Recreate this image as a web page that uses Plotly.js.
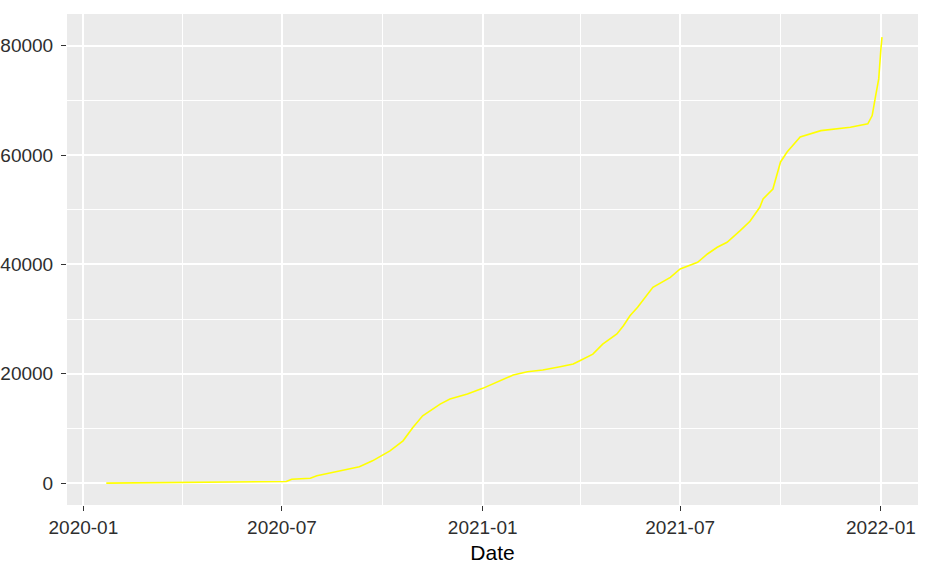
<!DOCTYPE html>
<html>
<head>
<meta charset="utf-8">
<script src="https://cdn.plot.ly/plotly-3.0.1.min.js"></script>
<style>
  html, body { margin: 0; padding: 0; background: #fff; }
  #chart { width: 929px; height: 568px; }
</style>
</head>
<body>
<div id="chart"></div>
<script>
// cumulative count, roughly one point every 1-3 weeks
const dates = [
	'2020-01-22', '2020-03-01', '2020-04-01', '2020-05-01', '2020-06-01', '2020-06-20',
	'2020-07-05', '2020-07-10', '2020-07-27', '2020-08-02', '2020-08-14', '2020-08-28',
	'2020-09-10', '2020-09-22', '2020-10-08', '2020-10-20', '2020-10-29', '2020-11-07',
	'2020-11-23', '2020-12-02', '2020-12-18', '2021-01-01', '2021-01-14', '2021-01-29',
	'2021-02-11', '2021-02-25', '2021-03-13', '2021-03-25', '2021-03-31', '2021-04-12',
	'2021-04-21', '2021-05-04', '2021-05-10', '2021-05-16', '2021-05-23', '2021-06-01',
	'2021-06-06', '2021-06-22', '2021-07-01', '2021-07-17', '2021-07-26', '2021-08-04',
	'2021-08-13', '2021-08-25', '2021-09-03', '2021-09-12', '2021-09-15', '2021-09-24',
	'2021-09-27', '2021-10-01', '2021-10-07', '2021-10-19', '2021-11-07', '2021-12-04',
	'2021-12-20', '2021-12-24', '2021-12-27', '2021-12-30', '2022-01-01', '2022-01-02'
];
const cases = [
	0, 50, 100, 130, 150, 200,
	300, 700, 900, 1340, 1830, 2430,
	2980, 4080, 5910, 7740, 10190, 12320,
	14460, 15370, 16290, 17330, 18430, 19760,
	20370, 20680, 21280, 21780, 22390, 23600,
	25430, 27270, 28790, 30620, 32150, 34590,
	35810, 37640, 39160, 40380, 41910, 43130,
	44050, 46180, 47900, 50450, 51970, 53800,
	56000, 58740, 60570, 63320, 64470, 65090,
	65700, 67220, 70640, 73930, 79420, 81560
];

// axis settings (ggplot grey theme look)
const xRange = [ '2019-12-17', '2022-02-04' ];
const yRange = [ -4000, 85800 ];
const xTickFormat = '%Y-%m';
const xTitle = 'Date';

const fontFamily = '"Liberation Sans", Arial, sans-serif';

const data = [ {
	x: dates,
	y: cases,
	type: 'scatter',
	mode: 'lines',
	line: { color: '#FFFF00', width: 1.6 },
	hoverinfo: 'x+y',
	showlegend: false
} ];

const layout = {
	width: 929,
	height: 568,
	margin: { l: 67, r: 11, t: 14, b: 63 },
	paper_bgcolor: '#ffffff',
	plot_bgcolor: '#EBEBEB',
	font: { family: fontFamily, size: 19, color: '#2e2e2e' },
	xaxis: {
		type: 'date',
		range: xRange,
		tick0: '2020-01-01',
		dtick: 'M6',
		tickformat: xTickFormat,
		ticks: 'outside',
		ticklen: 5,
		tickwidth: 1.2,
		tickcolor: '#333333',
		showgrid: true,
		gridcolor: '#ffffff',
		gridwidth: 1.6,
		minor: { dtick: 'M3', tick0: '2020-01-01', showgrid: true, gridcolor: '#ffffff', gridwidth: 0.7, ticks: '' },
		zeroline: false,
		showline: false,
		tickfont: { size: 19, color: '#2e2e2e' },
		title: { text: xTitle, font: { size: 21, color: '#000000' }, standoff: 8 }
	},
	yaxis: {
		range: yRange,
		tick0: 0,
		dtick: 20000,
		tickformat: 'd',
		ticks: 'outside',
		ticklen: 5,
		tickwidth: 1.2,
		tickcolor: '#333333',
		ticklabelstandoff: 4,
		showgrid: true,
		gridcolor: '#ffffff',
		gridwidth: 1.6,
		minor: { dtick: 10000, showgrid: true, gridcolor: '#ffffff', gridwidth: 0.7, ticks: '' },
		zeroline: false,
		showline: false,
		tickfont: { size: 19, color: '#2e2e2e' }
	}
};

Plotly.newPlot('chart', data, layout, { displayModeBar: false, responsive: false });
</script>
</body>
</html>
